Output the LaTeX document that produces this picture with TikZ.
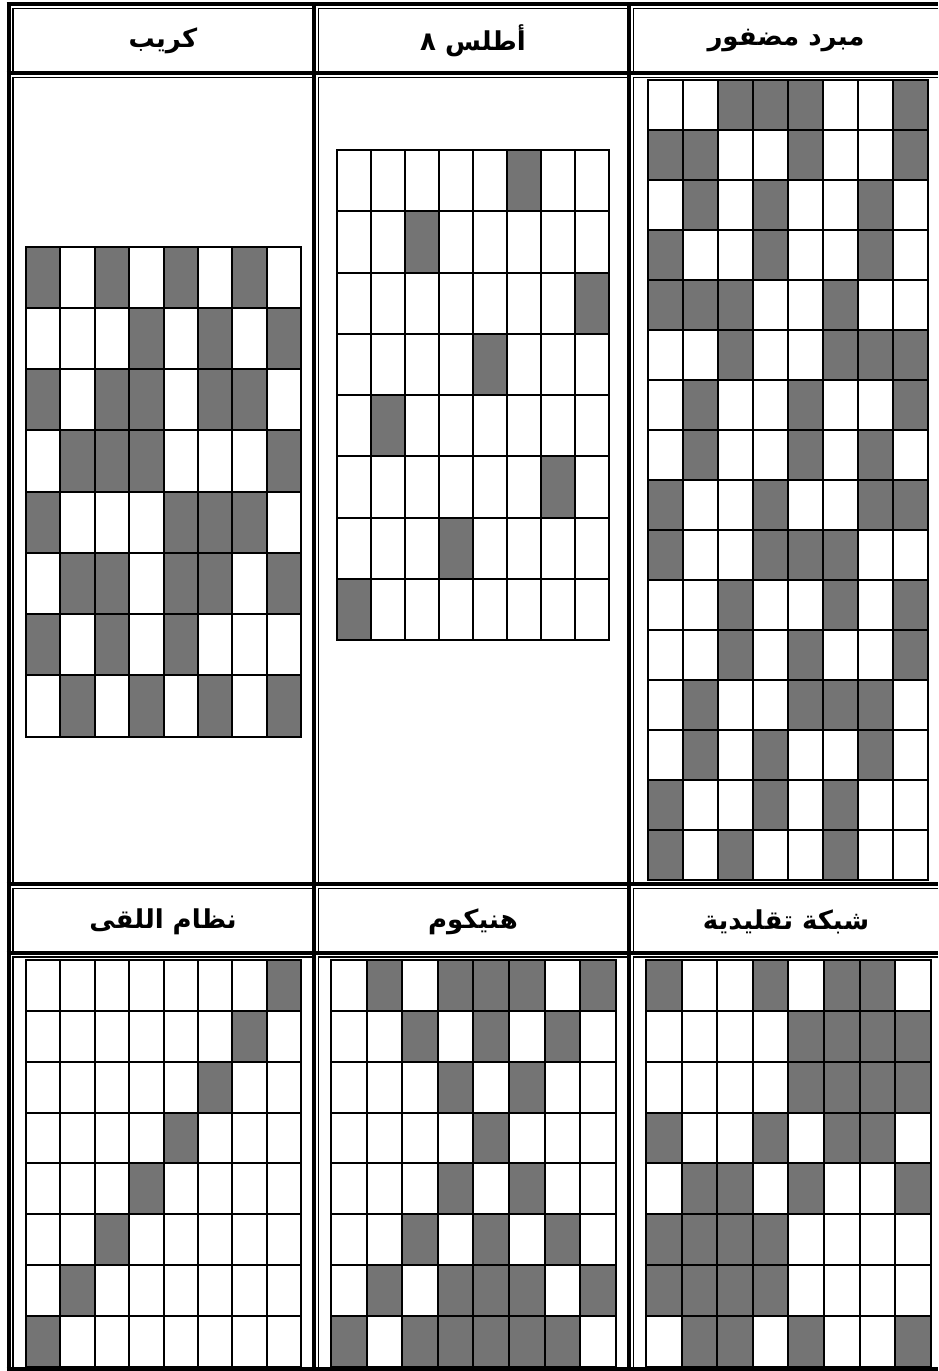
\documentclass[tikz,border=0pt]{standalone}
\usepackage{fontspec}
\newfontfamily\arabicfont[Script=Arabic]{DejaVu Sans}
\TeXXeTstate=1
\definecolor{cellgray}{RGB}{116,116,116}
\tikzset{
  gridline/.style={line width=2pt, black},
  thickrule/.style={line width=4pt, black},
  thinrule/.style={line width=1.8pt, black},
  headtext/.style={font=\arabicfont\bfseries\fontsize{26}{30}\selectfont, inner sep=0pt, anchor=center}
}
\newcommand{\weavegrid}[5]{%
  \foreach \rw [count=\r from 0] in {#5} {
    \foreach \cv [count=\k from 0] in \rw {
      \ifnum\cv=1 \fill[cellgray] ({#1+\k*#3},{#2+\r*#4}) rectangle ++(#3,#4);\fi
    }
  }
  \foreach \rw [count=\r from 0] in {#5} {
    \foreach \cv [count=\k from 0] in \rw {
      \draw[gridline] ({#1+\k*#3},{#2+\r*#4}) rectangle ++(#3,#4);
    }
  }
}
\begin{document}
\begin{tikzpicture}[x=1pt,y=-1pt]
\useasboundingbox (0,0) rectangle (938,1371);
\fill[white] (0,0) rectangle (938,1371);

% thin inner cell lines (top and left of each cell)
\foreach \xa/\xb in {8.5/314, 314/629, 629/938} {
  \foreach \ya/\yb in {4/73, 73/884, 884/952.5, 952.5/1368.5} {
    \draw[thinrule] (\xa+4.5,\yb) |- (\xb,\ya+4.5);
  }
}

% thick table rules
\draw[thickrule] (6.5,4) -- (938,4);
\foreach \yy in {73,884,952.5} { \draw[thickrule] (6.5,\yy) -- (938,\yy); }
\draw[thickrule] (6.5,1368.5) -- (938,1368.5);
\foreach \xx in {8.5,314,629} { \draw[thickrule] (\xx,2) -- (\xx,1370.5); }

% headers
\node[headtext] (crepe) at (163,40.5) {\beginR كريب\endR};
\node[headtext] (atlas) at (473,40.5) {\beginR أطلس ٨\endR};
\node[headtext] (twill) at (786,40.5) {\beginR مبرد مضفور\endR};
\node[headtext] (sateen) at (163,921.5) {\beginR نظام اللقى\endR};
\node[headtext] (honey) at (473,921.5) {\beginR هنيكوم\endR};
\node[headtext] (trad) at (786,921.5) {\beginR شبكة تقليدية\endR};

% crepe
\weavegrid{25.7}{246.7}{34.45}{61.25}{{1,0,1,0,1,0,1,0},{0,0,0,1,0,1,0,1},{1,0,1,1,0,1,1,0},{0,1,1,1,0,0,0,1},{1,0,0,0,1,1,1,0},{0,1,1,0,1,1,0,1},{1,0,1,0,1,0,0,0},{0,1,0,1,0,1,0,1}}
% atlas 8
\weavegrid{336.7}{150}{34.08}{61.25}{{0,0,0,0,0,1,0,0},{0,0,1,0,0,0,0,0},{0,0,0,0,0,0,0,1},{0,0,0,0,1,0,0,0},{0,1,0,0,0,0,0,0},{0,0,0,0,0,0,1,0},{0,0,0,1,0,0,0,0},{1,0,0,0,0,0,0,0}}
% broken twill
\weavegrid{648.3}{80}{35}{50}{{0,0,1,1,1,0,0,1},{1,1,0,0,1,0,0,1},{0,1,0,1,0,0,1,0},{1,0,0,1,0,0,1,0},{1,1,1,0,0,1,0,0},{0,0,1,0,0,1,1,1},{0,1,0,0,1,0,0,1},{0,1,0,0,1,0,1,0},{1,0,0,1,0,0,1,1},{1,0,0,1,1,1,0,0},{0,0,1,0,0,1,0,1},{0,0,1,0,1,0,0,1},{0,1,0,0,1,1,1,0},{0,1,0,1,0,0,1,0},{1,0,0,1,0,1,0,0},{1,0,1,0,0,1,0,0}}
% sateen diagonal
\weavegrid{26}{960}{34.38}{50.85}{{0,0,0,0,0,0,0,1},{0,0,0,0,0,0,1,0},{0,0,0,0,0,1,0,0},{0,0,0,0,1,0,0,0},{0,0,0,1,0,0,0,0},{0,0,1,0,0,0,0,0},{0,1,0,0,0,0,0,0},{1,0,0,0,0,0,0,0}}
% honeycomb
\weavegrid{331}{960}{35.6}{50.85}{{0,1,0,1,1,1,0,1},{0,0,1,0,1,0,1,0},{0,0,0,1,0,1,0,0},{0,0,0,0,1,0,0,0},{0,0,0,1,0,1,0,0},{0,0,1,0,1,0,1,0},{0,1,0,1,1,1,0,1},{1,0,1,1,1,1,1,0}}
% traditional
\weavegrid{646}{960}{35.6}{50.85}{{1,0,0,1,0,1,1,0},{0,0,0,0,1,1,1,1},{0,0,0,0,1,1,1,1},{1,0,0,1,0,1,1,0},{0,1,1,0,1,0,0,1},{1,1,1,1,0,0,0,0},{1,1,1,1,0,0,0,0},{0,1,1,0,1,0,0,1}}
\end{tikzpicture}
\end{document}
